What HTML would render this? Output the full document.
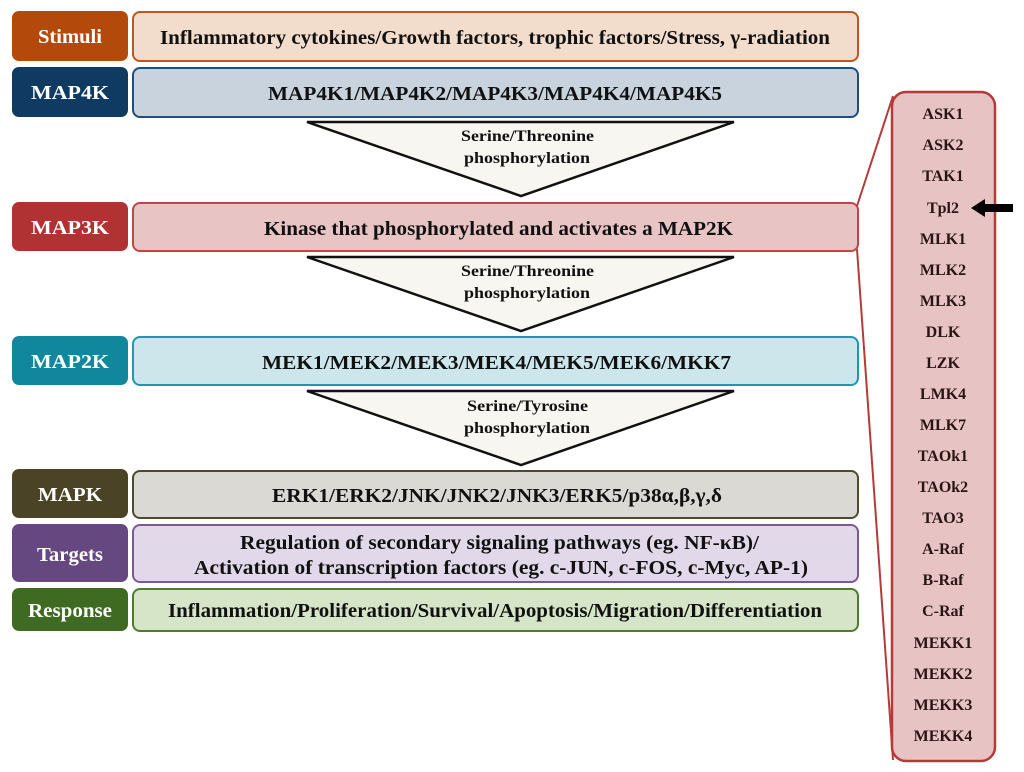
<!DOCTYPE html>
<html><head><meta charset="utf-8"><style>
html,body{margin:0;padding:0;background:#fff;}
svg{display:block;}
text{font-family:"Liberation Serif",serif;font-weight:bold;}
.lab{fill:#fff;font-size:20px;text-anchor:middle;}
.t{fill:#111;font-size:20px;}
.s{fill:#111;font-size:16px;}
.side{fill:#2a1515;font-size:16px;text-anchor:middle;}
</style></head><body>
<svg width="1024" height="772" viewBox="0 0 1024 772" xmlns="http://www.w3.org/2000/svg">
<line x1="857" y1="206" x2="893" y2="96" stroke="#b53a3a" stroke-width="2"/>
<line x1="857" y1="249" x2="893" y2="760" stroke="#b53a3a" stroke-width="2"/>

<rect x="12" y="11" width="116" height="50" rx="7" fill="#b34a0c"/>
<text class="lab" x="70" y="43" textLength="64" lengthAdjust="spacingAndGlyphs">Stimuli</text>
<rect x="133" y="12" width="725" height="49" rx="7" fill="#f2dccc" stroke="#c0561c" stroke-width="2"/>
<text class="t" x="160" y="44" textLength="670" lengthAdjust="spacingAndGlyphs">Inflammatory  cytokines/Growth  factors, trophic factors/Stress, γ-radiation</text>

<rect x="12" y="67" width="116" height="50" rx="7" fill="#0f3a62"/>
<text class="lab" x="70" y="99" textLength="78" lengthAdjust="spacingAndGlyphs">MAP4K</text>
<rect x="133" y="68" width="725" height="49" rx="7" fill="#c8d3de" stroke="#1c4f7c" stroke-width="2"/>
<text class="t" x="268" y="100" textLength="454" lengthAdjust="spacingAndGlyphs">MAP4K1/MAP4K2/MAP4K3/MAP4K4/MAP4K5</text>

<polygon points="307,122 734,122 521,196" fill="#f8f6f0" stroke="#111" stroke-width="2.5"/>
<text class="s" x="461" y="141" textLength="133" lengthAdjust="spacingAndGlyphs">Serine/Threonine</text>
<text class="s" x="464" y="163" textLength="126" lengthAdjust="spacingAndGlyphs">phosphorylation</text>

<rect x="12" y="202" width="116" height="49" rx="7" fill="#b03232"/>
<text class="lab" x="70" y="234" textLength="78" lengthAdjust="spacingAndGlyphs">MAP3K</text>
<rect x="133" y="203" width="725" height="48" rx="7" fill="#e8c4c4" stroke="#c04646" stroke-width="2"/>
<text class="t" x="264" y="235" textLength="469" lengthAdjust="spacingAndGlyphs">Kinase that phosphorylated  and activates a MAP2K</text>

<polygon points="307,257 734,257 521,331" fill="#f8f6f0" stroke="#111" stroke-width="2.5"/>
<text class="s" x="461" y="276" textLength="133" lengthAdjust="spacingAndGlyphs">Serine/Threonine</text>
<text class="s" x="464" y="298" textLength="126" lengthAdjust="spacingAndGlyphs">phosphorylation</text>

<rect x="12" y="336" width="116" height="49" rx="7" fill="#11879e"/>
<text class="lab" x="70" y="368" textLength="78" lengthAdjust="spacingAndGlyphs">MAP2K</text>
<rect x="133" y="337" width="725" height="48" rx="7" fill="#cde6ec" stroke="#2196b0" stroke-width="2"/>
<text class="t" x="262" y="369" textLength="469" lengthAdjust="spacingAndGlyphs">MEK1/MEK2/MEK3/MEK4/MEK5/MEK6/MKK7</text>

<polygon points="307,391 734,391 521,465" fill="#f8f6f0" stroke="#111" stroke-width="2.5"/>
<text class="s" x="467" y="411" textLength="121" lengthAdjust="spacingAndGlyphs">Serine/Tyrosine</text>
<text class="s" x="464" y="433" textLength="126" lengthAdjust="spacingAndGlyphs">phosphorylation</text>

<rect x="12" y="469" width="116" height="49" rx="7" fill="#4a4325"/>
<text class="lab" x="70" y="501" textLength="64" lengthAdjust="spacingAndGlyphs">MAPK</text>
<rect x="133" y="471" width="725" height="47" rx="7" fill="#dbd9d4" stroke="#4d4a30" stroke-width="2"/>
<text class="t" x="272" y="502" textLength="450" lengthAdjust="spacingAndGlyphs">ERK1/ERK2/JNK/JNK2/JNK3/ERK5/p38α,β,γ,δ</text>

<rect x="12" y="524" width="116" height="58" rx="7" fill="#664881"/>
<text class="lab" x="70" y="561" textLength="66" lengthAdjust="spacingAndGlyphs">Targets</text>
<rect x="133" y="525" width="725" height="57" rx="7" fill="#e1d9e9" stroke="#7a5a96" stroke-width="2"/>
<text class="t" x="240" y="549" textLength="519" lengthAdjust="spacingAndGlyphs">Regulation of secondary  signaling pathways (eg. NF-κB)/</text>
<text class="t" x="194" y="574" textLength="614" lengthAdjust="spacingAndGlyphs">Activation  of transcription  factors (eg. c-JUN, c-FOS, c-Myc, AP-1)</text>

<rect x="12" y="588" width="116" height="43" rx="7" fill="#3f6a22"/>
<text class="lab" x="70" y="617" textLength="84" lengthAdjust="spacingAndGlyphs">Response</text>
<rect x="133" y="589" width="725" height="42" rx="7" fill="#d6e5c7" stroke="#4f7b2c" stroke-width="2"/>
<text class="t" x="168" y="617" textLength="654" lengthAdjust="spacingAndGlyphs">Inflammation/Proliferation/Survival/Apoptosis/Migration/Differentiation</text>

<rect x="892" y="92" width="103" height="669" rx="14" fill="#e8c3c3" stroke="#b53a3a" stroke-width="2.5"/>
<text class="side" x="943" y="119">ASK1</text>
<text class="side" x="943" y="150">ASK2</text>
<text class="side" x="943" y="181">TAK1</text>
<text class="side" x="943" y="213">Tpl2</text>
<text class="side" x="943" y="244">MLK1</text>
<text class="side" x="943" y="275">MLK2</text>
<text class="side" x="943" y="306">MLK3</text>
<text class="side" x="943" y="337">DLK</text>
<text class="side" x="943" y="368">LZK</text>
<text class="side" x="943" y="399">LMK4</text>
<text class="side" x="943" y="430">MLK7</text>
<text class="side" x="943" y="461">TAOk1</text>
<text class="side" x="943" y="492">TAOk2</text>
<text class="side" x="943" y="523">TAO3</text>
<text class="side" x="943" y="554">A-Raf</text>
<text class="side" x="943" y="585">B-Raf</text>
<text class="side" x="943" y="616">C-Raf</text>
<text class="side" x="943" y="648">MEKK1</text>
<text class="side" x="943" y="679">MEKK2</text>
<text class="side" x="943" y="710">MEKK3</text>
<text class="side" x="943" y="741">MEKK4</text>
<polygon points="971,208 985,199 985,204 1013,204 1013,212 985,212 985,217" fill="#000"/>
</svg>
</body></html>
